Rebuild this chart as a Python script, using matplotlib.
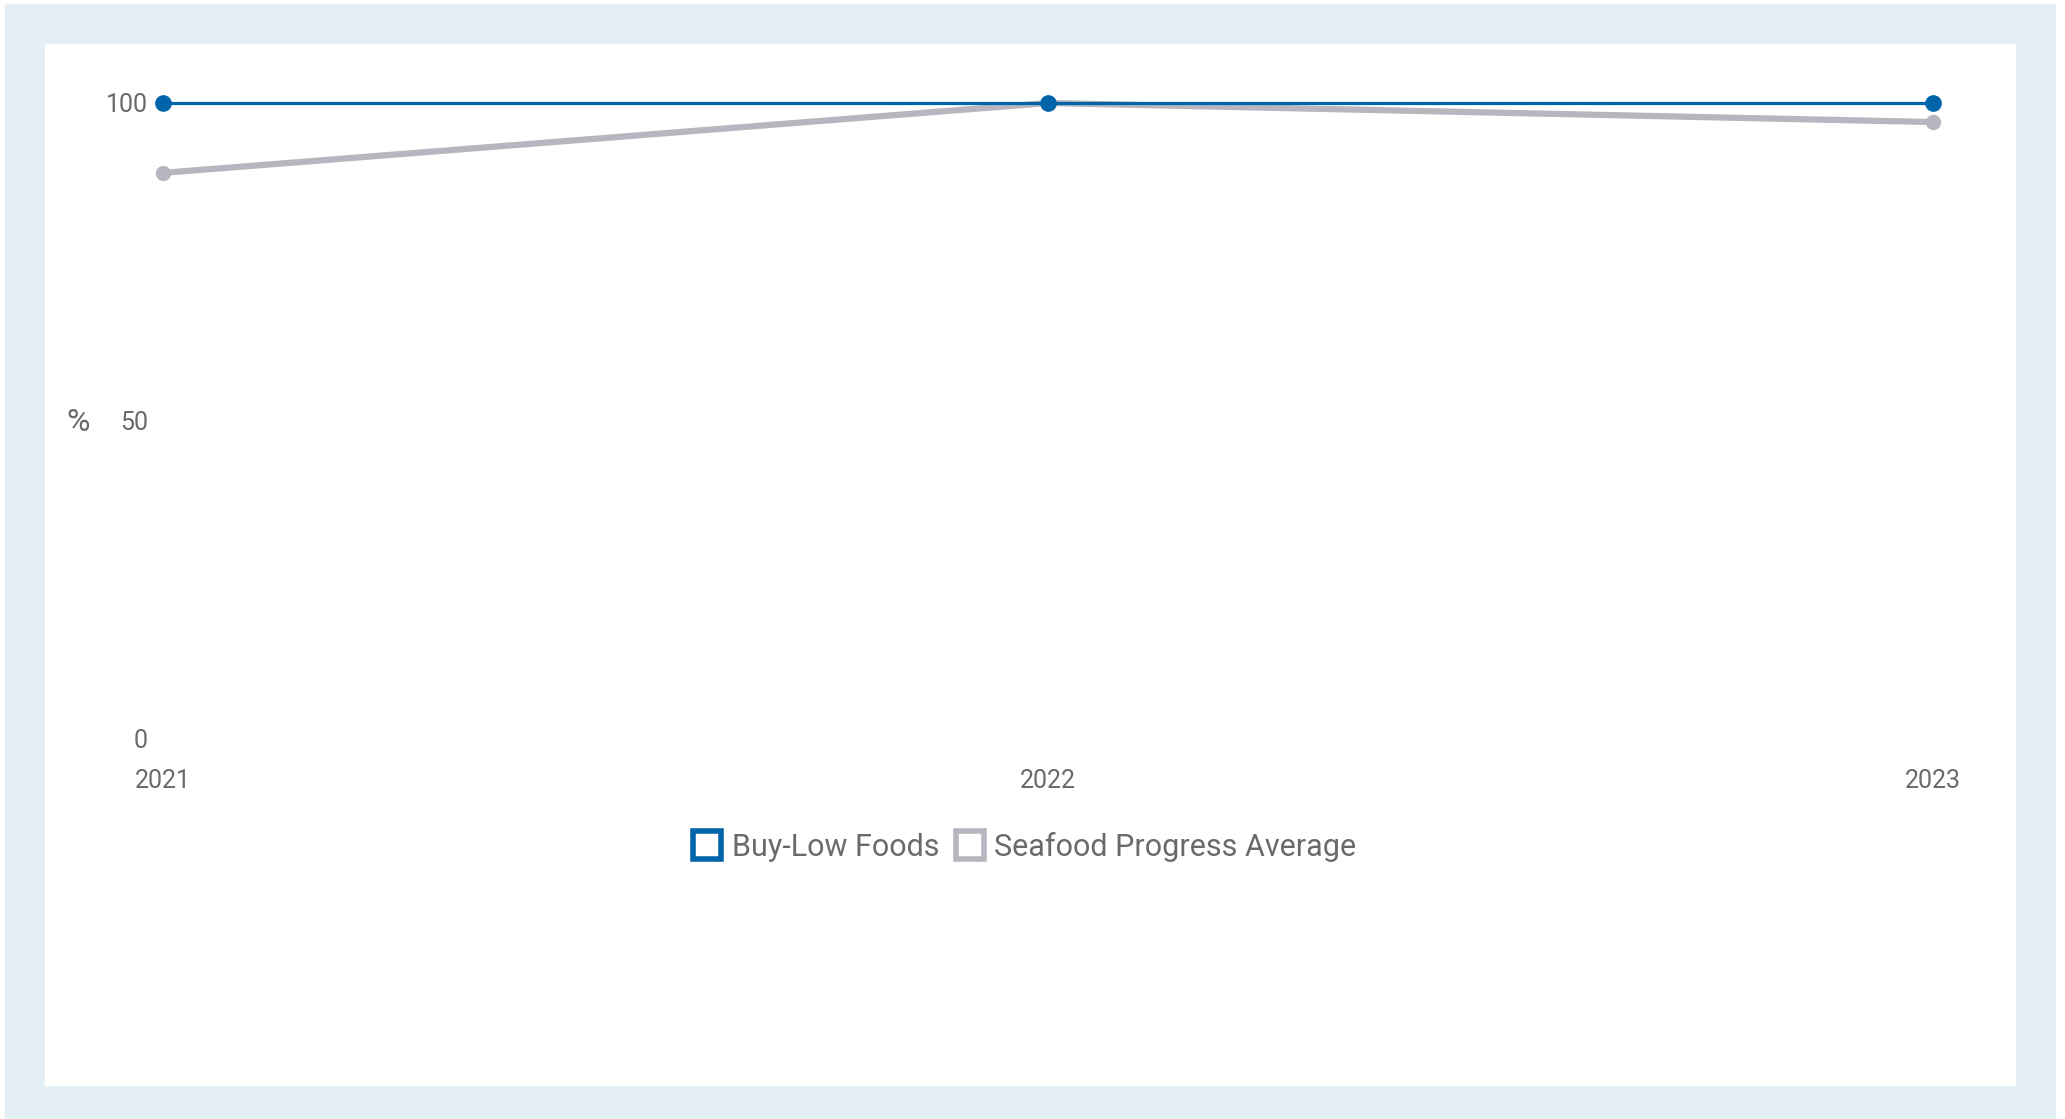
import matplotlib.pyplot as plt
from matplotlib.patches import Rectangle
from matplotlib.lines import Line2D

# Data
years = [2021, 2022, 2023]
buy_low = [100, 100, 100]
seafood_avg = [89, 100, 97]
series_names = ['Buy-Low Foods', 'Seafood Progress Average']
y_ticks = [0, 50, 100]

blue = '#0064AA'
grey = '#B7B5BE'
text_grey = '#6A6A6A'
panel_bg = '#E3EEF5'

plt.rcParams['font.family'] = ['Roboto', 'DejaVu Sans']

W, H = 2065, 1119
fig = plt.figure(figsize=(W / 100, H / 100), dpi=100, facecolor='white')

# light blue frame and white inner card (behind the axes)
fig.patches.append(Rectangle((5 / W, 0), 2050 / W, 1 - 4 / H,
                             transform=fig.transFigure, color=panel_bg, zorder=-2))
fig.patches.append(Rectangle((45 / W, 1 - 1085 / H), 1970 / W, 1041 / H,
                             transform=fig.transFigure, color='white', zorder=-1))

ax = fig.add_axes([163 / W, 1 - 738 / H, (1933 - 163) / W, (738 - 103) / H])
ax.patch.set_alpha(0)

ax.plot(years, seafood_avg, color=grey, linewidth=4.5, marker='o',
        markersize=10, clip_on=False, zorder=3)
ax.plot(years, buy_low, color=blue, linewidth=2.3, marker='o',
        markersize=11, clip_on=False, zorder=4)

ax.set_xlim(years[0], years[-1])
ax.set_ylim(0, 100)
ax.set_xticks(years)
ax.set_xticklabels([str(y) for y in years])
ax.set_yticks(y_ticks)
ax.tick_params(axis='both', length=0, labelsize=18, labelcolor=text_grey)
ax.tick_params(axis='x', pad=22)
ax.tick_params(axis='y', pad=11)
for s in ax.spines.values():
    s.set_visible(False)

ax.text(-0.048, 0.497, '%', transform=ax.transAxes, ha='center', va='center',
        fontsize=23, color=text_grey)

handles = [Line2D([], [], linestyle='none', marker='s', markersize=20,
                  markerfacecolor='white', markeredgecolor=c, markeredgewidth=4)
           for c in (blue, grey)]
fig.legend(handles, series_names, loc='center', bbox_to_anchor=(1024 / W, 1 - 847 / H),
           ncol=2, frameon=False, fontsize=22, labelcolor=text_grey,
           handlelength=1.0, handletextpad=0.3, columnspacing=0.5)

fig.savefig('out.png', dpi=100, facecolor='white')
